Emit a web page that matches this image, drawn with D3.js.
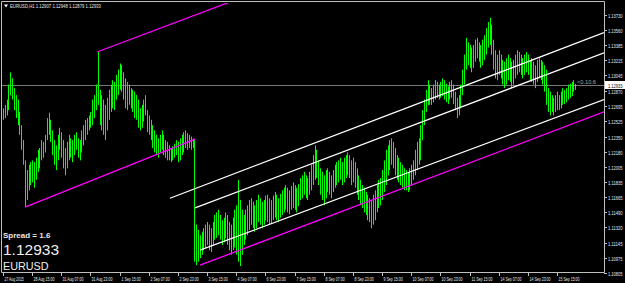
<!DOCTYPE html>
<html>
<head>
<meta charset="utf-8">
<script src="https://cdn.jsdelivr.net/npm/d3@7"></script>
<style>
html, body { margin: 0; padding: 0; background: #000; overflow: hidden; }
svg { display: block; }
text { font-family: "Liberation Sans", Arial, sans-serif; }
</style>
</head>
<body>
<svg id="chart" width="625" height="283"></svg>
<script>
// ---- data ----
var symbol = "EURUSD";
var period = "H1";
var lastBar = [1.12907, 1.12948, 1.12879, 1.12933]; // O H L C
var spread = 1.6;

var priceTicks = [1.13730, 1.13560, 1.13385, 1.13215, 1.13045, 1.12870, 1.12695, 1.12525, 1.12350,
  1.12180, 1.12005, 1.11835, 1.11665, 1.11490, 1.11320, 1.11145, 1.10975, 1.10805];

var timeTicks = ["27 Aug 2015", "28 Aug 15:00", "31 Aug 07:00", "31 Aug 23:00", "1 Sep 15:00",
  "2 Sep 07:00", "2 Sep 23:00", "3 Sep 15:00", "4 Sep 07:00", "6 Sep 23:00", "7 Sep 15:00",
  "8 Sep 07:00", "8 Sep 23:00", "9 Sep 15:00", "10 Sep 07:00", "10 Sep 23:00", "11 Sep 15:00",
  "14 Sep 07:00", "14 Sep 23:00", "15 Sep 15:00"];
var barsPerTick = 16;

var highs = [
  1.1267,1.1271,1.1277,1.1294,1.1308,1.1301,1.1290,1.1282,1.1277,1.1263,1.1248,1.1231,
  1.1208,1.1197,1.1203,1.1206,1.1208,1.1206,1.1211,1.1220,1.1222,1.1231,1.1229,
  1.1237,1.1256,1.1262,1.1254,1.1242,1.1231,1.1225,1.1237,1.1245,1.1240,1.1231,
  1.1222,1.1229,1.1237,1.1233,1.1231,1.1237,1.1240,1.1233,1.1231,1.1242,1.1248,
  1.1254,1.1256,1.1259,1.1263,1.1277,1.1282,1.1294,1.1331,1.1288,1.1282,1.1277,
  1.1271,1.1279,1.1288,1.1294,1.1299,1.1297,1.1305,1.1311,1.1318,1.1316,1.1308,
  1.1301,1.1297,1.1294,1.1290,1.1288,1.1286,1.1282,1.1277,1.1267,1.1271,1.1277,
  1.1282,1.1265,1.1259,1.1254,1.1248,1.1242,1.1237,1.1233,1.1237,1.1242,1.1237,
  1.1231,1.1229,1.1225,1.1222,1.1224,1.1227,1.1231,1.1229,1.1233,1.1237,1.1240,
  1.1242,1.1239,1.1237,1.1235,1.1233,1.1231,1.1135,1.1129,1.1123,1.1127,1.1131,
  1.1135,1.1138,1.1135,1.1131,1.1138,1.1146,1.1149,1.1152,1.1146,1.1140,1.1143,
  1.1149,1.1146,1.1138,1.1135,1.1143,1.1152,1.1157,1.1186,1.1163,1.1152,1.1146,
  1.1152,1.1157,1.1163,1.1165,1.1161,1.1157,1.1163,1.1169,1.1165,1.1161,1.1163,
  1.1168,1.1169,1.1165,1.1163,1.1168,1.1172,1.1169,1.1165,1.1170,1.1174,1.1177,
  1.1180,1.1177,1.1174,1.1179,1.1183,1.1180,1.1177,1.1181,1.1188,1.1191,1.1195,
  1.1191,1.1188,1.1195,1.1203,1.1214,1.1225,1.1220,1.1208,1.1199,1.1195,1.1191,
  1.1197,1.1199,1.1195,1.1191,1.1197,1.1203,1.1206,1.1208,1.1211,1.1206,1.1211,
  1.1214,1.1217,1.1214,1.1208,1.1211,1.1206,1.1199,1.1191,1.1186,1.1180,1.1177,
  1.1172,1.1169,1.1165,1.1163,1.1169,1.1174,1.1180,1.1186,1.1188,1.1197,1.1208,
  1.1220,1.1225,1.1231,1.1233,1.1229,1.1222,1.1214,1.1211,1.1206,1.1203,1.1199,
  1.1197,1.1195,1.1199,1.1203,1.1208,1.1220,1.1229,1.1233,1.1248,1.1265,1.1277,
  1.1288,1.1299,1.1294,1.1290,1.1294,1.1299,1.1297,1.1294,1.1297,1.1301,1.1299,
  1.1295,1.1292,1.1297,1.1299,1.1294,1.1286,1.1279,1.1282,1.1294,1.1311,1.1328,
  1.1347,1.1342,1.1339,1.1336,1.1339,1.1345,1.1347,1.1342,1.1339,1.1345,1.1350,
  1.1358,1.1365,1.1370,1.1362,1.1345,1.1333,1.1328,1.1333,1.1328,1.1322,1.1320,
  1.1324,1.1328,1.1324,1.1320,1.1322,1.1328,1.1333,1.1331,1.1328,1.1324,1.1328,
  1.1331,1.1328,1.1322,1.1324,1.1320,1.1316,1.1322,1.1324,1.1322,1.1320,1.1316,
  1.1311,1.1290,1.1286,1.1282,1.1279,1.1282,1.1286,1.1282,1.1286,1.1290,1.1288,
  1.1290,1.1294,1.1295,1.1297,1.1299,1.12948
];

var lows = [
  1.1254,1.1256,1.1259,1.1265,1.1282,1.1277,1.1265,1.1256,1.1248,1.1237,1.1220,1.1203,
  1.1155,1.1163,1.1174,1.1180,1.1183,1.1177,1.1186,1.1195,1.1199,1.1208,1.1211,
  1.1217,1.1231,1.1237,1.1229,1.1214,1.1203,1.1197,1.1208,1.1220,1.1211,1.1199,
  1.1191,1.1199,1.1208,1.1211,1.1206,1.1214,1.1220,1.1211,1.1208,1.1217,1.1225,
  1.1231,1.1237,1.1242,1.1245,1.1248,1.1256,1.1265,1.1271,1.1248,1.1242,1.1237,
  1.1231,1.1242,1.1254,1.1263,1.1267,1.1265,1.1277,1.1282,1.1288,1.1286,1.1277,
  1.1267,1.1265,1.1271,1.1267,1.1263,1.1256,1.1254,1.1245,1.1242,1.1245,1.1252,
  1.1259,1.1240,1.1237,1.1231,1.1222,1.1217,1.1214,1.1211,1.1217,1.1220,1.1214,
  1.1211,1.1208,1.1208,1.1206,1.1208,1.1211,1.1214,1.1206,1.1208,1.1214,1.1217,
  1.1222,1.1220,1.1222,1.1220,1.1222,1.1093,1.1089,1.1093,1.1097,1.1101,1.1106,
  1.1109,1.1112,1.1106,1.1104,1.1112,1.1118,1.1120,1.1123,1.1118,1.1112,1.1115,
  1.1120,1.1112,1.1106,1.1101,1.1106,1.1109,1.1101,1.1093,1.1088,1.1101,1.1112,
  1.1118,1.1123,1.1129,1.1135,1.1131,1.1127,1.1131,1.1138,1.1135,1.1131,1.1135,
  1.1140,1.1138,1.1135,1.1136,1.1140,1.1143,1.1140,1.1138,1.1143,1.1146,1.1149,
  1.1152,1.1149,1.1147,1.1152,1.1154,1.1152,1.1149,1.1156,1.1163,1.1165,1.1169,
  1.1165,1.1163,1.1169,1.1174,1.1180,1.1186,1.1188,1.1180,1.1169,1.1163,1.1157,
  1.1165,1.1172,1.1169,1.1165,1.1172,1.1177,1.1180,1.1183,1.1186,1.1180,1.1183,
  1.1188,1.1191,1.1188,1.1180,1.1183,1.1177,1.1169,1.1163,1.1157,1.1154,1.1149,
  1.1146,1.1140,1.1138,1.1131,1.1135,1.1140,1.1149,1.1154,1.1157,1.1163,1.1172,
  1.1180,1.1191,1.1197,1.1203,1.1199,1.1191,1.1186,1.1183,1.1180,1.1177,1.1174,
  1.1174,1.1172,1.1174,1.1180,1.1186,1.1191,1.1197,1.1203,1.1208,1.1231,1.1248,
  1.1263,1.1271,1.1271,1.1271,1.1274,1.1277,1.1279,1.1277,1.1279,1.1281,1.1277,
  1.1274,1.1272,1.1277,1.1279,1.1272,1.1265,1.1256,1.1259,1.1267,1.1282,1.1294,
  1.1311,1.1316,1.1313,1.1308,1.1313,1.1320,1.1324,1.1320,1.1313,1.1316,1.1322,
  1.1328,1.1336,1.1339,1.1328,1.1311,1.1301,1.1299,1.1305,1.1301,1.1294,1.1290,
  1.1294,1.1299,1.1297,1.1290,1.1294,1.1301,1.1305,1.1308,1.1305,1.1301,1.1305,
  1.1308,1.1305,1.1299,1.1297,1.1294,1.1290,1.1297,1.1301,1.1299,1.1294,1.1286,
  1.1271,1.1263,1.1259,1.1263,1.1259,1.1263,1.1265,1.1265,1.1267,1.1271,1.1272,
  1.1274,1.1277,1.1279,1.1281,1.1286,1.12879
];

// drawn objects: [bar1, price1, bar2, price2, extend to right]
var magentaLines = [
  [12.1, 1.1155, 105.4, 1.1232, false],
  [51.6, 1.1331, 108.1, 1.1375, true],
  [108.1, 1.1089, 329.8, 1.1263, true]
];
var whiteLines = [
  [91.6, 1.1165, 329.8, 1.1353, true],
  [105.4, 1.1154, 329.8, 1.1330, true],
  [108.1, 1.1106, 329.8, 1.1277, true]
];

// ---- layout ----
var svg = d3.select("#chart");
var pl = 2, pr = 604, pt = 3, pb = 272;

var x = d3.scaleLinear().domain([0, barsPerTick * (timeTicks.length - 1)]).range([3, 557]);
var y = d3.scaleLinear().domain([priceTicks[priceTicks.length - 1], priceTicks[0]]).range([272.7, 15]);

svg.append("rect").attr("width", 625).attr("height", 283).attr("fill", "#000");

svg.append("clipPath").attr("id", "plotclip")
  .append("rect").attr("x", pl).attr("y", pt).attr("width", pr - pl).attr("height", pb - pt);

var plot = svg.append("g").attr("clip-path", "url(#plotclip)");

// bid line
var cy = Math.round(y(lastBar[3])) + 0.5;
plot.append("line")
  .attr("x1", pl).attr("x2", pr).attr("y1", cy).attr("y2", cy)
  .attr("stroke", "#777").attr("stroke-width", 1);

// bars
plot.selectAll("line.bar").data(highs).enter().append("line")
  .attr("class", "bar")
  .attr("x1", function(d, i) { return Math.round(x(i)) + 0.5; })
  .attr("x2", function(d, i) { return Math.round(x(i)) + 0.5; })
  .attr("y1", function(d) { return y(d); })
  .attr("y2", function(d, i) { return y(lows[i]); })
  .attr("stroke", "#00ff00").attr("stroke-width", 1);

function drawLines(list, color) {
  list.forEach(function(l) {
    var x1 = x(l[0]), y1 = y(l[1]), x2 = x(l[2]), y2 = y(l[3]);
    if (l[4]) {
      var k = (y2 - y1) / (x2 - x1);
      y2 = y1 + k * (pr - x1);
      x2 = pr;
    }
    plot.append("line")
      .attr("x1", x1).attr("y1", y1).attr("x2", x2).attr("y2", y2)
      .attr("stroke", color).attr("stroke-width", 1.3);
  });
}
drawLines(magentaLines, "#ff00ff");
drawLines(whiteLines, "#ffffff");

// frame
svg.append("path")
  .attr("d", "M" + (pl - 0.5) + "," + (pb + 0.5) + "V" + (pt - 1.5) + "H" + (pr + 0.5) + "V" + (pb + 0.5) + "H" + (pl - 0.5))
  .attr("fill", "none").attr("stroke", "#c0c0c0").attr("stroke-width", 1);

// price axis
var pAxis = svg.append("g");
priceTicks.forEach(function(p) {
  var py = Math.round(y(p)) + 0.5;
  pAxis.append("line").attr("x1", pr).attr("x2", pr + 3).attr("y1", py).attr("y2", py).attr("stroke", "#c0c0c0");
  pAxis.append("text").attr("x", pr + 4).attr("y", py + 2.2)
    .attr("font-size", 5.5).attr("textLength", 14.5).attr("lengthAdjust", "spacingAndGlyphs")
    .attr("fill", "#e8e8e8").text(p.toFixed(5));
});
pAxis.append("rect").attr("x", pr + 1).attr("y", cy - 4.5).attr("width", 20).attr("height", 8).attr("fill", "#fff");
pAxis.append("text").attr("x", pr + 4).attr("y", cy + 2.2)
  .attr("font-size", 5.5).attr("textLength", 14.5).attr("lengthAdjust", "spacingAndGlyphs")
  .attr("fill", "#000").text(lastBar[3].toFixed(5));

// time axis
var tAxis = svg.append("g");
timeTicks.forEach(function(t, k) {
  var tx = Math.round(x(k * barsPerTick)) + 0.5;
  tAxis.append("line").attr("x1", tx).attr("x2", tx).attr("y1", pb).attr("y2", pb + 4).attr("stroke", "#c0c0c0");
  tAxis.append("text").attr("x", tx + 1).attr("y", pb + 8.5)
    .attr("font-size", 5.2).attr("textLength", t.length * 1.75).attr("lengthAdjust", "spacingAndGlyphs")
    .attr("fill", "#e8e8e8").text(t);
});

// header and info texts
svg.append("path").attr("d", "M4,4.5 L8,4.5 L6,7.5 Z").attr("fill", "#fff");
var header = symbol + "," + period + " " + lastBar.map(function(v) { return v.toFixed(5); }).join(" ");
svg.append("text").attr("x", 10).attr("y", 8).attr("font-size", 6)
  .attr("textLength", 91).attr("lengthAdjust", "spacingAndGlyphs")
  .attr("fill", "#e8e8e8").text(header);

plot.append("text").attr("x", 577).attr("y", 84).attr("font-size", 5.5)
  .attr("textLength", 19).attr("lengthAdjust", "spacingAndGlyphs")
  .attr("fill", "#aaa").text("<0.10.6");

svg.append("text").attr("x", 3).attr("y", 238).attr("font-size", 8).attr("font-weight", "bold")
  .attr("fill", "#e8e8e8").text("Spread = " + spread);
svg.append("text").attr("x", 3).attr("y", 255).attr("font-size", 15.5).attr("fill", "#f0f0f0")
  .text(lastBar[3].toFixed(5));
svg.append("text").attr("x", 3).attr("y", 270).attr("font-size", 10.8).attr("fill", "#f0f0f0").text(symbol);
</script>
</body>
</html>
